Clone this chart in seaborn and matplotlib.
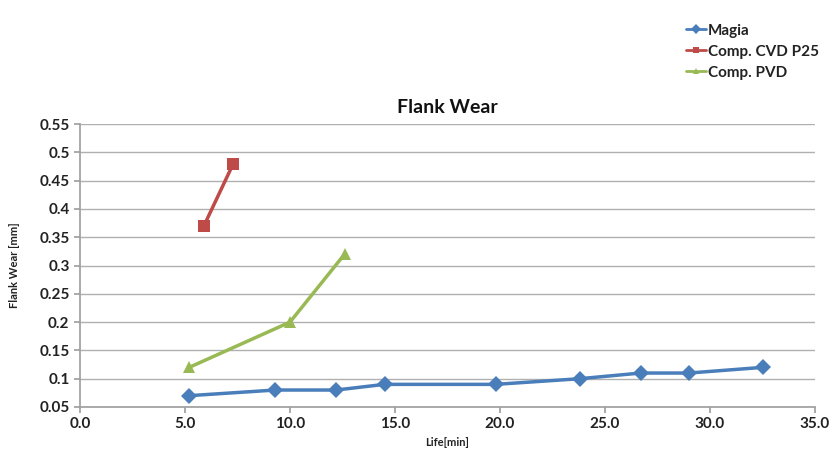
import pandas as pd
import numpy as np
import seaborn as sns
import matplotlib.pyplot as plt

# data
magia_x = [5.2, 9.3, 12.2, 14.5, 19.8, 23.8, 26.7, 29.0, 32.5]
magia_y = [0.07, 0.08, 0.08, 0.09, 0.09, 0.10, 0.11, 0.11, 0.12]
cvd_x = [5.9, 7.3]
cvd_y = [0.37, 0.48]
pvd_x = [5.2, 10.0, 12.6]
pvd_y = [0.12, 0.20, 0.32]
series = ["Magia", "Comp. CVD P25", "Comp. PVD"]

df = pd.concat([
    pd.DataFrame({"life": magia_x, "wear": magia_y, "serie": series[0]}),
    pd.DataFrame({"life": cvd_x, "wear": cvd_y, "serie": series[1]}),
    pd.DataFrame({"life": pvd_x, "wear": pvd_y, "serie": series[2]}),
])

sns.set_theme(style="white")
plt.rcParams['font.family'] = ['Lato', 'DejaVu Sans']

colores = {series[0]: "#4a7ebb", series[1]: "#be4b48", series[2]: "#98b954"}
marcas = {series[0]: "D", series[1]: "s", series[2]: "^"}

fig = plt.figure(figsize=(8.31, 4.66), dpi=100)
ax = fig.add_axes([80/831, 59/466, 735/831, 283/466])

sns.lineplot(data=df, x="life", y="wear", hue="serie", style="serie",
             palette=colores, markers=marcas, dashes=False, sort=False,
             linewidth=2.5, markersize=8.5, markeredgewidth=0, ax=ax)

ax.set_xlim(0, 35)
ax.set_ylim(0.05, 0.55)
ax.set_xticks(np.arange(0, 35.1, 5))
ax.set_xticklabels([f"{v:.1f}" for v in np.arange(0, 35.1, 5)])
ax.set_yticks(np.arange(0.05, 0.551, 0.05))
ax.set_yticklabels(["0.05", "0.1", "0.15", "0.2", "0.25", "0.3", "0.35", "0.4", "0.45", "0.5", "0.55"])
for lab in ax.get_xticklabels() + ax.get_yticklabels():
    lab.set_fontweight("bold")
    lab.set_fontsize(11)
    lab.set_color("#222222")

ax.yaxis.grid(True, color="#b0b0b0", linewidth=1)
ax.xaxis.grid(False)
for s in ["top", "right"]:
    ax.spines[s].set_visible(False)
for s in ["left", "bottom"]:
    ax.spines[s].set_color("#a0a0a0")
ax.tick_params(axis="both", length=4, color="#a0a0a0", direction="out", bottom=True, left=True)

ax.set_xlabel("Life[min]", fontsize=8, fontweight="bold", color="#222222")
ax.set_ylabel("Flank Wear [mm]", fontsize=8, fontweight="bold", color="#222222", labelpad=14)
ax.set_title("Flank Wear", fontsize=14, fontweight="bold", color="#111111", pad=8)

leg = ax.legend(loc="upper left", bbox_to_anchor=(672/831, 456/466), bbox_transform=fig.transFigure,
                frameon=False, fontsize=11, handlelength=1.3, handletextpad=0.15, labelspacing=0.45,
                markerscale=0.55)
for t in leg.get_texts():
    t.set_fontweight("bold")
    t.set_color("#222222")
for h in leg.get_lines():
    h.set_linewidth(2)

plt.savefig("out.png", dpi=100)
